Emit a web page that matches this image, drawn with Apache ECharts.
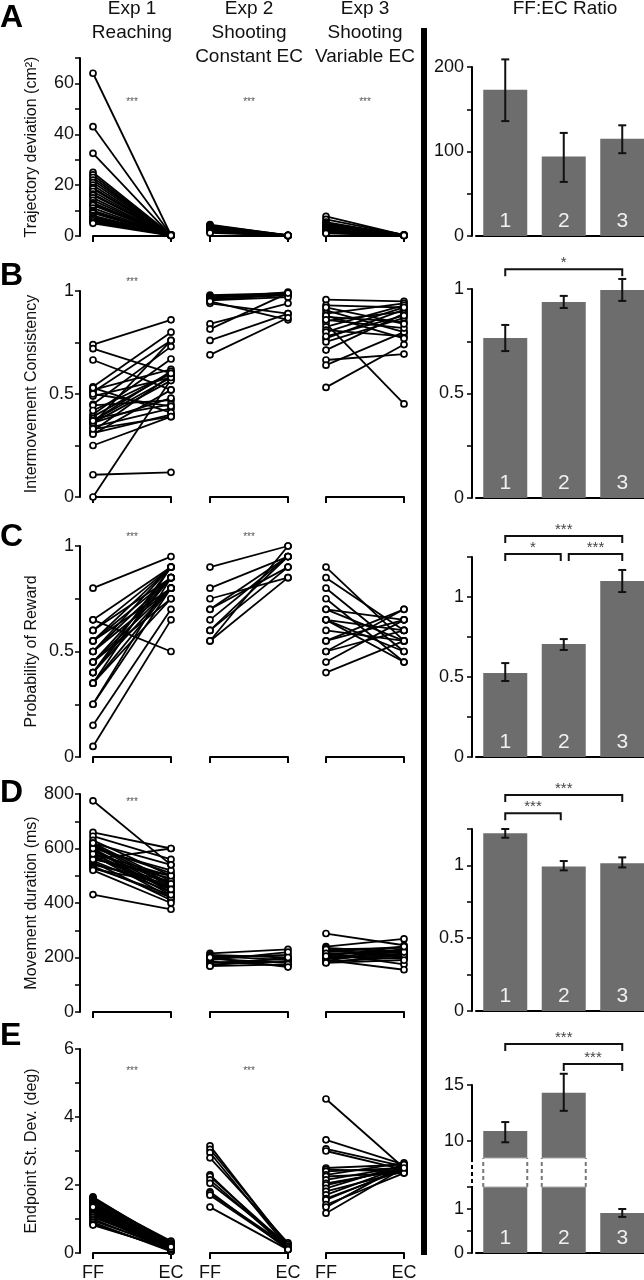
<!DOCTYPE html>
<html><head><meta charset="utf-8">
<script src="https://cdn.jsdelivr.net/npm/echarts@6/dist/echarts.min.js"></script>
<style>html,body{margin:0;padding:0;background:#fff}#c{width:644px;height:1280px}</style>
</head><body><div id="c"></div>
<script>
// ================= DATA =================
const expTitles = [['Exp 1','Reaching'],['Exp 2','Shooting','Constant EC'],['Exp 3','Shooting','Variable EC']];
const ratioTitle = 'FF:EC Ratio';
const panelLetters = ['A','B','C','D','E'];
const yNames = ['Trajectory deviation (cm²)','Intermovement Consistency','Probability of Reward','Movement duration (ms)','Endpoint St. Dev. (deg)'];
const condLabels = ['FF','EC'];
const barCats = ['1','2','3'];

// Row A: trajectory deviation
const trajE1FF = [64,43,32.5,25,24,23,22,21,20,19,18.5,17.5,16.5,16,15,14,13,12.5,12,11,10,9.5,9,8,7.5,7,6.5,6,5.5,5];
const trajE1EC = [0.3,0.4,0.2,0.5,0.3,0.2,0.4,0.3,0.2,0.3,0.4,0.2,0.3,0.5,0.2,0.3,0.4,0.2,0.3,0.2,0.4,0.3,0.2,0.3,0.2,0.4,0.3,0.2,0.3,0.2];
const trajE2FF = [4.5,4.2,4.0,3.7,3.4,3.0,2.8,2.5,2.2,2.0,1.6,1.2];
const trajE2EC = [0.2,0.3,0.1,0.2,0.3,0.2,0.1,0.2,0.3,0.2,0.1,0.2];
const trajE3FF = [7.7,6.5,5.5,5.0,4.6,4.2,4.0,3.8,3.5,3.3,3.1,2.9,2.7,2.5,2.3,2.0,1.8,1.5,1.3,1.0];
const trajE3EC = [0.3,0.4,0.2,0.3,0.5,0.3,0.2,0.4,0.3,0.2,0.3,0.4,0.2,0.3,0.2,0.3,0.4,0.2,0.3,0.2];

// Row B: intermovement consistency
const consE1FF = [0.74,0.72,0.665,0.535,0.52,0.51,0.49,0.45,0.445,0.40,0.39,0.38,0.37,0.36,0.355,0.34,0.32,0.31,0.305,0.25,0.108,0,0.53,0.50,0.36,0.33,0.37,0.42];
const consE1EC = [0.86,0.60,0.52,0.80,0.62,0.76,0.58,0.73,0.47,0.67,0.60,0.45,0.61,0.48,0.76,0.43,0.59,0.40,0.52,0.39,0.12,0.57,0.41,0.44,0.565,0.39,0.58,0.60];
const consE2FF = [0.98,0.975,0.97,0.965,0.96,0.955,0.94,0.95,0.84,0.815,0.76,0.69];
const consE2EC = [0.99,0.985,0.98,0.995,0.98,0.97,0.89,0.86,0.94,0.99,0.89,0.87];
const consE3FF = [0.958,0.93,0.906,0.89,0.874,0.855,0.842,0.826,0.81,0.77,0.753,0.713,0.665,0.64,0.532,0.88,0.86,0.80,0.92,0.78];
const consE3EC = [0.95,0.92,0.80,0.94,0.85,0.90,0.452,0.93,0.78,0.91,0.87,0.89,0.694,0.80,0.74,0.77,0.82,0.92,0.84,0.88];

// Row C: probability of reward
const rewE1FF = [0.80,0.65,0.65,0.60,0.60,0.55,0.55,0.50,0.50,0.45,0.45,0.40,0.40,0.40,0.35,0.35,0.35,0.25,0.25,0.15,0.05,0.50,0.45,0.55];
const rewE1EC = [0.95,0.50,0.90,0.85,0.90,0.85,0.80,0.90,0.80,0.85,0.75,0.90,0.80,0.85,0.80,0.75,0.90,0.80,0.85,0.70,0.65,0.85,0.80,0.90];
const rewE2FF = [0.90,0.80,0.75,0.70,0.65,0.60,0.60,0.55,0.55,0.70];
const rewE2EC = [1.0,0.95,0.85,0.90,0.95,0.95,0.90,1.0,0.85,0.95];
const rewE3FF = [0.90,0.85,0.80,0.75,0.70,0.70,0.65,0.65,0.60,0.55,0.55,0.50,0.50,0.45,0.40,0.65];
const rewE3EC = [0.55,0.60,0.50,0.45,0.65,0.55,0.50,0.60,0.55,0.70,0.65,0.60,0.70,0.65,0.55,0.45];

// Row D: movement duration (ms)
const durE1FF = [775,659,645,630,620,615,610,605,600,595,590,585,580,575,570,565,560,555,550,545,540,535,530,525,520,560,580,600,620,431];
const durE1EC = [540,600,560,500,480,470,460,510,450,440,470,430,500,420,450,490,600,440,410,460,480,420,430,470,400,500,450,520,540,377];
const durE2FF = [215,210,205,200,195,190,185,180,175,170,168,200];
const durE2EC = [230,200,190,210,180,220,170,195,185,200,175,165];
const durE3FF = [288,240,235,230,225,220,215,210,205,200,198,195,190,188,185,182,180,230,215,205];
const durE3EC = [245,268,220,200,210,240,175,230,195,225,205,215,155,230,200,210,190,235,220,240];

// Row E: endpoint st. dev. (deg)
const endE1FF = [1.65,1.62,1.6,1.58,1.55,1.52,1.5,1.48,1.45,1.42,1.4,1.38,1.35,1.32,1.3,1.28,1.25,1.22,1.2,1.18,1.15,1.12,1.1,1.05,1.0,0.95,0.9,0.85,0.82,1.35];
const endE1EC = [0.25,0.3,0.2,0.15,0.35,0.1,0.2,0.25,0.15,0.1,0.2,0.3,0.05,0.15,0.2,0.1,0.25,0.15,0.1,0.2,0.05,0.15,0.1,0.2,0.1,0.15,0.05,0.1,0.12,0.18];
const endE2FF = [3.15,3.05,2.95,2.8,2.3,2.25,2.15,2.05,1.8,1.75,1.7,1.35];
const endE2EC = [0.2,0.25,0.15,0.3,0.1,0.2,0.15,0.25,0.1,0.2,0.15,0.1];
const endE3FF = [4.53,3.33,3.06,3.0,2.5,2.45,2.4,2.3,2.25,2.15,2.05,2.0,1.9,1.81,1.71,1.6,1.56,1.42,1.35,1.17];
const endE3EC = [2.5,2.6,2.55,2.45,2.6,2.4,2.5,2.65,2.35,2.55,2.45,2.5,2.6,2.4,2.55,2.45,2.5,2.35,2.6,2.5];

// Within-experiment significance (FF vs EC), per row × experiment
const pairStars = [['***','***','***'],['***','',''],['***','***',''],['***','',''],['***','***','']];

// FF:EC ratio bars (mean, [low, high] error)
const ratioTraj = [173, 94, 115];
const errTraj = [[136,209],[64,122],[98,131]];
const ratioCons = [0.766, 0.938, 0.995];
const errCons = [[0.703,0.828],[0.909,0.967],[0.943,1.048]];
const ratioRew = [0.525, 0.706, 1.10];
const errRew = [[0.475,0.587],[0.669,0.737],[1.031,1.169]];
const ratioDur = [1.22, 0.993, 1.014];
const errDur = [[1.19,1.25],[0.966,1.03],[0.986,1.055]];
const ratioEnd = [10.9, 14.3, 0.91];
const errEnd = [[9.9,11.7],[12.7,16.0],[0.82,1.0]];

// Between-experiment comparisons on the ratios
const sigCons = [{a:0,b:2,t:'*'}];
const sigRew = [{a:0,b:2,t:'***'},{a:0,b:1,t:'*'},{a:1,b:2,t:'***'}];
const sigDur = [{a:0,b:2,t:'***'},{a:0,b:1,t:'***'}];
const sigEnd = [{a:0,b:2,t:'***'},{a:1,b:2,t:'***'}];

// ================= LAYOUT / STYLE =================
const FONT = '"Liberation Sans", Arial, Helvetica, sans-serif';
const BAR_COLOR = '#6d6d6d';
const L_X = [93, 210, 326], L_W = 78, L_AXOFF = 13;
const rowsL = [{top:58,h:178},{top:291,h:206},{top:546,h:211},{top:794,h:218},{top:1049,h:204}];
const yCfgL = [
  {min:0,max:70,interval:10,step:20},
  {min:0,max:1,interval:0.25,step:0.5},
  {min:0,max:1,interval:0.25,step:0.5},
  {min:0,max:800,interval:100,step:200},
  {min:0,max:6,interval:1,step:2}
];
const starY = [102, 282, 537, 802, 1071];
const B_LEFT = 476, B_W = 175.5, B_AXOFF = 4, BAR_W = 44;
const letterY = [18, 276, 537, 793, 1036];

const grids = [], xAxes = [], yAxes = [], series = [], graphics = [];
const stepFmt = step => v => (Math.abs(v/step - Math.round(v/step)) < 1e-6) ? String(+(+v).toFixed(4)) : '';
const axisLineStyle = {color:'#000', width:2};

function addGrid(left, top, width, height){
  grids.push({left, top, width, height, containLabel:false, outerBoundsMode:'none'});
  return grids.length - 1;
}

function pairSeries(gi, ff, ec){
  return {
    type:'custom', xAxisIndex:gi, yAxisIndex:gi, clip:false, silent:true,
    data: ff.map((v,i)=>[v, ec[i]]),
    renderItem(params, api){
      const a = api.coord([0, api.value(0)]);
      const b = api.coord([1, api.value(1)]);
      const cs = {fill:'#fff', stroke:'#000', lineWidth:1.7};
      return {type:'group', children:[
        {type:'line', z2:1, shape:{x1:a[0],y1:a[1],x2:b[0],y2:b[1]}, style:{stroke:'#000', lineWidth:1.8}},
        {type:'circle', z2:5, shape:{cx:a[0],cy:a[1],r:3}, style:cs},
        {type:'circle', z2:5, shape:{cx:b[0],cy:b[1],r:3}, style:cs}
      ]};
    }
  };
}

const leftData = [
  [[trajE1FF,trajE1EC],[trajE2FF,trajE2EC],[trajE3FF,trajE3EC]],
  [[consE1FF,consE1EC],[consE2FF,consE2EC],[consE3FF,consE3EC]],
  [[rewE1FF,rewE1EC],[rewE2FF,rewE2EC],[rewE3FF,rewE3EC]],
  [[durE1FF,durE1EC],[durE2FF,durE2EC],[durE3FF,durE3EC]],
  [[endE1FF,endE1EC],[endE2FF,endE2EC],[endE3FF,endE3EC]]
];

leftData.forEach((row, r) => {
  row.forEach((pair, e) => {
    const gi = addGrid(L_X[e], rowsL[r].top, L_W, rowsL[r].h);
    const yc = yCfgL[r];
    xAxes.push({
      gridIndex:gi, type:'value', min:0, max:1, interval:1,
      axisLine:{show:true, onZero:false, lineStyle:axisLineStyle},
      axisTick:{show:true, length:6, lineStyle:{color:'#000', width:2}},
      axisLabel:{show:r===4, margin:11, color:'#111', fontSize:18, fontFamily:FONT,
        showMinLabel:true, showMaxLabel:true,
        formatter: v => v===0 ? condLabels[0] : (v===1 ? condLabels[1] : '')},
      splitLine:{show:false}
    });
    yAxes.push({
      gridIndex:gi, type:'value', min:yc.min, max:yc.max, interval:yc.interval,
      show: e===0, position:'left', offset:L_AXOFF,
      axisLine:{show:true, onZero:false, lineStyle:axisLineStyle},
      axisTick:{show:true, length:5, lineStyle:{color:'#000', width:1.5}},
      axisLabel:{margin:6, color:'#111', fontSize:18, fontFamily:FONT, formatter:stepFmt(yc.step), showMinLabel:true, showMaxLabel:true},
      splitLine:{show:false},
      name: e===0 ? yNames[r] : '', nameLocation:'middle', nameGap:40, nameRotate:90, nameMoveOverlap:false,
      nameTextStyle:{color:'#111', fontSize:16, fontFamily:FONT}
    });
    series.push(pairSeries(gi, pair[0], pair[1]));
    if (pairStars[r][e]) {
      graphics.push({type:'text', x:L_X[e]+L_W/2, y:starY[r], silent:true,
        style:{text:pairStars[r][e], fill:'#555', font:'10px '+FONT, textAlign:'center', textVerticalAlign:'middle'}});
    }
  });
});

// ---------- bar panels ----------
function barAxes(gi, ycfg, showX){
  xAxes.push({gridIndex:gi, type:'category', data:barCats,
    axisLine:{show:showX, onZero:false, lineStyle:axisLineStyle},
    axisTick:{show:false}, axisLabel:{show:false}, splitLine:{show:false}});
  const y = {gridIndex:gi, type:'value', min:ycfg.min, max:ycfg.max, position:'left', offset:B_AXOFF,
    axisLine:{show:true, onZero:false, lineStyle:axisLineStyle},
    axisTick:{show:true, length:5, lineStyle:{color:'#000', width:1.5}},
    axisLabel:{margin:8, color:'#111', fontSize:18, fontFamily:FONT, showMinLabel:true, showMaxLabel:true},
    splitLine:{show:false}};
  if (ycfg.custom) {
    y.axisTick.customValues = ycfg.custom;
    y.axisLabel.customValues = ycfg.custom;
  } else {
    y.interval = ycfg.interval;
    y.axisLabel.formatter = stepFmt(ycfg.step);
  }
  yAxes.push(y);
}
function barSeries(gi, vals, showLabel){
  return {type:'bar', xAxisIndex:gi, yAxisIndex:gi, data:vals, barWidth:BAR_W, silent:true,
    itemStyle:{color:BAR_COLOR},
    label:{show:showLabel, position:'insideBottom', distance:4, formatter:p=>p.name, color:'#f0f0f0', fontSize:21, fontFamily:FONT}};
}
function errSeries(gi, errs, idx){
  return {type:'custom', xAxisIndex:gi, yAxisIndex:gi, clip:false, silent:true, z:5,
    data: idx.map(i => [i, errs[i][0], errs[i][1]]),
    renderItem(params, api){
      const lo = api.coord([api.value(0), api.value(1)]);
      const hi = api.coord([api.value(0), api.value(2)]);
      const x = lo[0], c = 4, st = {stroke:'#111', lineWidth:2};
      return {type:'group', children:[
        {type:'line', shape:{x1:x,y1:lo[1],x2:x,y2:hi[1]}, style:st},
        {type:'line', shape:{x1:x-c,y1:lo[1],x2:x+c,y2:lo[1]}, style:st},
        {type:'line', shape:{x1:x-c,y1:hi[1],x2:x+c,y2:hi[1]}, style:st}
      ]};
    }};
}
function sigSeries(gi, list, levels, insets){
  return {type:'custom', xAxisIndex:gi, yAxisIndex:gi, clip:false, silent:true, z:5,
    data: list.map(s => [s.a, s.b]),
    renderItem(params, api){
      const s = list[params.dataIndex], lv = levels[params.dataIndex], ins = insets[params.dataIndex];
      const p1 = api.coord([s.a, lv]), p2 = api.coord([s.b, lv]);
      const x1 = p1[0] + ins[0], x2 = p2[0] + ins[1], y = p1[1], d = 7;
      return {type:'group', children:[
        {type:'polyline', shape:{points:[[x1,y+d],[x1,y],[x2,y],[x2,y+d]]}, style:{stroke:'#111', lineWidth:2, fill:null}},
        {type:'text', style:{text:s.t, x:(x1+x2)/2, y:y+1, textAlign:'center', textVerticalAlign:'bottom', fill:'#444', font:'15px '+FONT}}
      ]};
    }};
}

const barRows = [
  {top:67, h:169, vals:ratioTraj, errs:errTraj, y:{min:0,max:200,interval:50,step:100}, sig:null},
  {top:289, h:209, vals:ratioCons, errs:errCons, y:{min:0,max:1,interval:0.25,step:0.5}, sig:sigCons, lv:[1.095], ins:[[0,0]]},
  {top:557, h:200, vals:ratioRew, errs:errRew, y:{min:0,max:1.25,interval:0.25,step:0.5}, sig:sigRew, lv:[1.381,1.269,1.269], ins:[[0,0],[0,-3],[5,0]]},
  {top:829, h:182, vals:ratioDur, errs:errDur, y:{min:0,max:1.25,interval:0.25,step:0.5}, sig:sigDur, lv:[1.483,1.359], ins:[[0,0],[0,-3]]}
];
barRows.forEach(br => {
  const gi = addGrid(B_LEFT, br.top, B_W, br.h);
  barAxes(gi, br.y, true);
  series.push(barSeries(gi, br.vals, true));
  series.push(errSeries(gi, br.errs, [0,1,2]));
  if (br.sig) series.push(sigSeries(gi, br.sig, br.lv, br.ins));
});

// Row E: broken axis (upper 8.5–15, lower 0–1.5)
const E_UP = {top:1085, h:73, min:8.5, max:15};
const E_LO = {top:1187, h:66, min:0, max:1.5};
const giUp = addGrid(B_LEFT, E_UP.top, B_W, E_UP.h);
barAxes(giUp, {min:E_UP.min, max:E_UP.max, custom:[10,15]}, false);
const giLo = addGrid(B_LEFT, E_LO.top, B_W, E_LO.h);
barAxes(giLo, {min:E_LO.min, max:E_LO.max, interval:0.5, step:1}, true);
const upIdx = ratioEnd.map((v,i)=>v>E_LO.max?i:-1).filter(i=>i>=0);
const loIdx = ratioEnd.map((v,i)=>v<=E_LO.max?i:-1).filter(i=>i>=0);
series.push(barSeries(giUp, ratioEnd.map(v => v > E_LO.max ? v : null), false));
series.push(barSeries(giLo, ratioEnd, true));
series.push(errSeries(giUp, errEnd, upIdx));
series.push(errSeries(giLo, errEnd, loIdx));
series.push(sigSeries(giUp, sigEnd, [18.66, 16.875], [[0,0],[0,0]]));
const GAP = E_LO.top - (E_UP.top + E_UP.h);
// break decoration on bars that cross the break
series.push({type:'custom', xAxisIndex:giLo, yAxisIndex:giLo, clip:false, silent:true, z:6,
  data: upIdx.map(i => [i, E_LO.max]),
  renderItem(params, api){
    const p = api.coord([api.value(0), api.value(1)]);
    const xl = p[0]-BAR_W/2, xr = p[0]+BAR_W/2, yb = p[1], yt = p[1]-GAP;
    const ds = {stroke:'#777', lineWidth:2, lineDash:[4,3]};
    return {type:'group', children:[
      {type:'line', shape:{x1:xl,y1:yb,x2:xl,y2:yt}, style:ds},
      {type:'line', shape:{x1:xr,y1:yb,x2:xr,y2:yt}, style:ds},
      {type:'line', shape:{x1:xl,y1:yb,x2:xr,y2:yb}, style:{stroke:'#aaa', lineWidth:1}},
      {type:'line', shape:{x1:xl,y1:yt,x2:xr,y2:yt}, style:{stroke:'#aaa', lineWidth:1}}
    ]};
  }});
graphics.push({type:'line', silent:true, shape:{x1:B_LEFT-B_AXOFF, y1:E_UP.top+E_UP.h, x2:B_LEFT-B_AXOFF, y2:E_LO.top},
  style:{stroke:'#000', lineWidth:2, lineDash:[4,3]}});

// ---------- decorations ----------
graphics.push({type:'rect', silent:true, shape:{x:421, y:28, width:6, height:1227}, style:{fill:'#000'}});
const headX = L_X.map(x => x + L_W/2);
expTitles.forEach((lines, e) => {
  lines.forEach((t, k) => graphics.push({type:'text', silent:true, x:headX[e], y:9+k*24,
    style:{text:t, fill:'#111', font:'19px '+FONT, textAlign:'center', textVerticalAlign:'middle'}}));
});
graphics.push({type:'text', silent:true, x:565, y:9, style:{text:ratioTitle, fill:'#111', font:'19px '+FONT, textAlign:'center', textVerticalAlign:'middle'}});
panelLetters.forEach((l, r) => graphics.push({type:'text', silent:true, x:0, y:letterY[r],
  style:{text:l, fill:'#000', font:'bold 32px '+FONT, textAlign:'left', textVerticalAlign:'middle'}}));

const chart = echarts.init(document.getElementById('c'), null, {renderer:'canvas'});
chart.setOption({
  animation:false, backgroundColor:'#fff',
  textStyle:{fontFamily:FONT},
  grid:grids, xAxis:xAxes, yAxis:yAxes, series:series, graphic:graphics
});
</script></body></html>
